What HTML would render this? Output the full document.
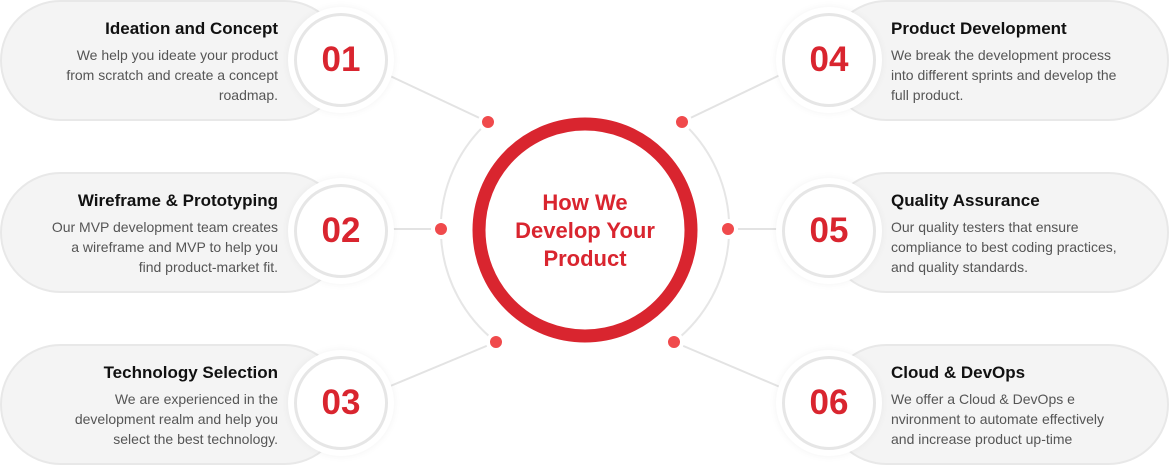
<!DOCTYPE html>
<html><head><style>
body{margin:0;width:1169px;height:466px;background:#fff;position:relative;overflow:hidden;font-family:"Liberation Sans",sans-serif}
.pill{position:absolute;background:#f4f4f4;border:2px solid #e8e8e8;border-radius:62px;box-sizing:border-box;height:121px}
.num{position:absolute;width:94px;height:94px;border-radius:50%;background:#fff;border:3px solid #e6e6e6;box-sizing:border-box;box-shadow:0 0 0 6px #fff,0 0 8px 6px rgba(0,0,0,0.05);color:#d9252f;font-weight:bold;font-size:35px;text-align:center;line-height:88px}
.t{position:absolute;width:300px}
.t h3{margin:0 0 6px;font-size:17px;color:#111;font-weight:bold}
.t p{margin:0;font-size:14px;line-height:20px;color:#555}
.l{text-align:right}
</style></head><body>
<svg width="1169" height="466" style="position:absolute;left:0;top:0">
<g fill="none" stroke="#e6e6e6" stroke-width="2">
<path d="M488,122 A144,144 0 0 0 496,342"/>
<path d="M682,122 A144,144 0 0 1 674,342"/>
</g>
<g stroke="#e3e3e3" stroke-width="2">
<line x1="388" y1="75" x2="488" y2="122"/><line x1="390" y1="229" x2="441" y2="229"/><line x1="388" y1="387" x2="496" y2="342"/>
<line x1="780" y1="75" x2="682" y2="122"/><line x1="778" y1="229" x2="728" y2="229"/><line x1="780" y1="387" x2="674" y2="342"/>
</g>
<g fill="#f04a4c" stroke="#fff" stroke-width="4">
<circle cx="488" cy="122" r="8"/><circle cx="441" cy="229" r="8"/><circle cx="496" cy="342" r="8"/>
<circle cx="682" cy="122" r="8"/><circle cx="728" cy="229" r="8"/><circle cx="674" cy="342" r="8"/>
</g>
<circle cx="585" cy="230" r="106" fill="#fff" stroke="#d9252f" stroke-width="13"/>
<text x="585" y="210" text-anchor="middle" font-family="Liberation Sans" font-weight="bold" font-size="22" fill="#d9252f">How We</text>
<text x="585" y="238" text-anchor="middle" font-family="Liberation Sans" font-weight="bold" font-size="22" fill="#d9252f">Develop Your</text>
<text x="585" y="266" text-anchor="middle" font-family="Liberation Sans" font-weight="bold" font-size="22" fill="#d9252f">Product</text>
</svg>
<div class="pill" style="left:0;top:0;width:345px"></div>
<div class="pill" style="left:0;top:172px;width:345px"></div>
<div class="pill" style="left:0;top:344px;width:345px"></div>
<div class="pill" style="left:826px;top:0;width:343px"></div>
<div class="pill" style="left:826px;top:172px;width:343px"></div>
<div class="pill" style="left:826px;top:344px;width:343px"></div>
<div class="num" style="left:294px;top:13px">01</div>
<div class="num" style="left:294px;top:184px">02</div>
<div class="num" style="left:294px;top:356px">03</div>
<div class="num" style="left:782px;top:13px">04</div>
<div class="num" style="left:782px;top:184px">05</div>
<div class="num" style="left:782px;top:356px">06</div>
<div class="t l" style="left:-22px;top:19px"><h3>Ideation and Concept</h3><p>We help you ideate your product<br>from scratch and create a concept<br>roadmap.</p></div>
<div class="t l" style="left:-22px;top:191px"><h3>Wireframe &amp; Prototyping</h3><p>Our MVP development team creates<br>a wireframe and MVP to help you<br>find product-market fit.</p></div>
<div class="t l" style="left:-22px;top:363px"><h3>Technology Selection</h3><p>We are experienced in the<br>development realm and help you<br>select the best technology.</p></div>
<div class="t" style="left:891px;top:19px"><h3>Product Development</h3><p>We break the development process<br>into different sprints and develop the<br>full product.</p></div>
<div class="t" style="left:891px;top:191px"><h3>Quality Assurance</h3><p>Our quality testers that ensure<br>compliance to best coding practices,<br>and quality standards.</p></div>
<div class="t" style="left:891px;top:363px"><h3>Cloud &amp; DevOps</h3><p>We offer a Cloud &amp; DevOps e<br>nvironment to automate effectively<br>and increase product up-time</p></div>
</body></html>
